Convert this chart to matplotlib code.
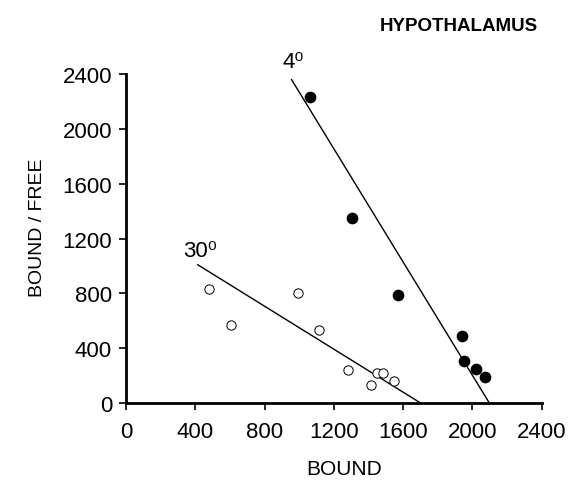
import matplotlib
matplotlib.use("Agg")
import matplotlib.pyplot as plt

# 4 degrees (filled)
cold_bound = [1062, 1305, 1568, 1942, 1953, 2021, 2073]
cold_ratio = [2234, 1347, 790, 486, 304, 248, 187]
cold_line_x = [956, 2098]
cold_line_y = [2359, 0]

# 30 degrees (open)
warm_bound = [481, 606, 993, 1116, 1284, 1416, 1449, 1486, 1545]
warm_ratio = [832, 569, 802, 535, 238, 134, 219, 219, 158]
warm_line_x = [414, 1701]
warm_line_y = [1009, 0]

ticks = [0, 400, 800, 1200, 1600, 2000, 2400]

plt.rcParams["font.family"] = ["Liberation Sans", "DejaVu Sans"]

fig = plt.figure(figsize=(5.72, 4.81), dpi=100)
ax = fig.add_axes([0.2203, 0.160, 0.7267, 0.684])

ax.plot(cold_line_x, cold_line_y, color="black", lw=1)
ax.plot(warm_line_x, warm_line_y, color="black", lw=1)
ax.scatter(cold_bound, cold_ratio, s=55, c="black", zorder=3)
ax.scatter(warm_bound, warm_ratio, s=45, facecolors="white", edgecolors="black",
           linewidths=0.7, zorder=3)

ax.set_xlim(0, 2400)
ax.set_ylim(0, 2400)
ax.set_xticks(ticks)
ax.set_yticks(ticks)
ax.tick_params(direction="out", length=5, width=1.2, labelsize=16)
ax.tick_params(axis="x", pad=8)
ax.tick_params(axis="y", pad=5)
for side in ["top", "right"]:
    ax.spines[side].set_visible(False)
for side in ["left", "bottom"]:
    ax.spines[side].set_linewidth(2)

ax.set_xlabel("BOUND", fontsize=15, va="center")
ax.xaxis.set_label_coords(0.524, -0.2)
ax.set_ylabel("BOUND / FREE", fontsize=14, ha="center", va="center")
ax.yaxis.set_label_coords(-0.212, 0.535)

ax.text(906, 2451, "4\u2070", fontsize=16, ha="left", va="baseline")
ax.text(329, 1072, "30\u2070", fontsize=16, ha="left", va="baseline")
fig.text(0.8024, 0.945, "HYPOTHALAMUS", fontsize=13.5, fontweight="bold",
         ha="center", va="center")

fig.savefig("out.png", dpi=100)
